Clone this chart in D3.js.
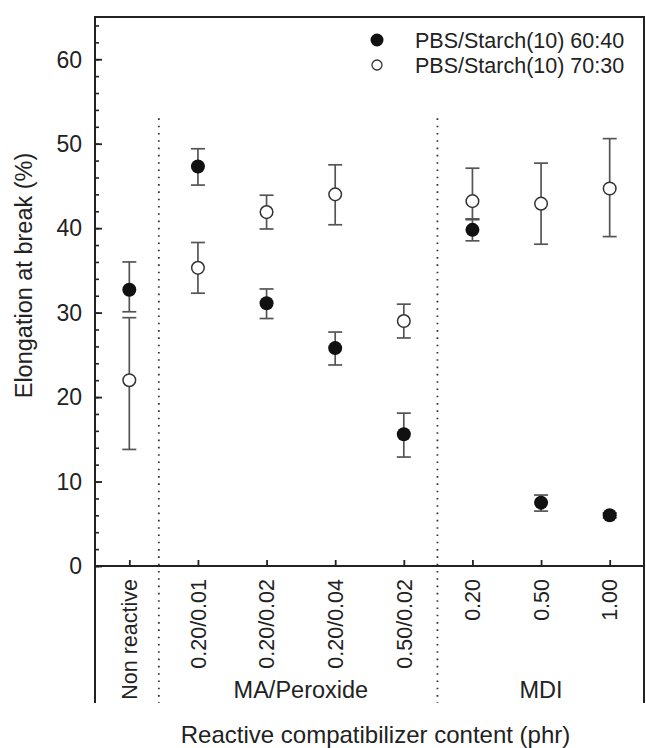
<!DOCTYPE html>
<html>
<head>
<meta charset="utf-8">
<script src="https://cdn.jsdelivr.net/npm/d3@7"></script>
<style>
  body { margin: 0; background: #fff; }
  text { font-family: "Liberation Sans", Arial, sans-serif; fill: #222; }
</style>
</head>
<body>
<div id="chart"></div>
<script>
// categories along the x axis
const categories = ["Non reactive", "0.20/0.01", "0.20/0.02", "0.20/0.04", "0.50/0.02", "0.20", "0.50", "1.00"];

// PBS/Starch(10) 60:40 (filled)
const filledMean = [32.7, 47.3, 31.1, 25.8, 15.6, 39.8, 7.5, 6.0];
const filledLow  = [30.1, 45.1, 29.3, 23.8, 12.9, 38.5, 6.5, 5.7];
const filledHigh = [36.0, 49.4, 32.8, 27.7, 18.1, 41.1, 8.4, 6.3];

// PBS/Starch(10) 70:30 (open)
const openMean = [22.0, 35.3, 41.9, 44.0, 29.0, 43.2, 42.9, 44.7];
const openLow  = [13.8, 32.3, 39.9, 40.4, 27.0, 41.0, 38.1, 39.0];
const openHigh = [29.4, 38.3, 43.9, 47.5, 31.0, 47.1, 47.7, 50.6];

const yTicks = [0, 10, 20, 30, 40, 50, 60];
const groups = [
  {name: "MA/Peroxide", from: 1, to: 4},
  {name: "MDI", from: 5, to: 7}
];
const seriesNames = ["PBS/Starch(10) 60:40", "PBS/Starch(10) 70:30"];

var width = 646, height = 748;
var margin = {top: 17, right: 2, bottom: 182, left: 95};

var svg = d3.select("#chart")
  .append("svg")
    .attr("width", width)
    .attr("height", height);

var x = d3.scalePoint()
  .domain(categories)
  .range([margin.left, width - margin.right])
  .padding(0.5);

var y = d3.scaleLinear()
  .domain([0, 65])
  .range([height - margin.bottom, margin.top]);

var plotLeft = margin.left, plotRight = width - margin.right;
var plotTop = margin.top, plotBottom = height - margin.bottom;
var boxBottom = 703;

// dotted separators between groups
var step = x.step();
var dividers = [x(categories[0]) + step * 0.43, x(categories[4]) + step * 0.49];
svg.append("g")
  .selectAll("line")
  .data(dividers)
  .enter()
  .append("line")
    .attr("x1", d => d).attr("x2", d => d)
    .attr("y1", y(53)).attr("y2", boxBottom)
    .attr("stroke", "#333")
    .attr("stroke-width", 1.8)
    .attr("stroke-dasharray", "1.6,5.7");

// frame
svg.append("path")
  .attr("d", "M" + plotLeft + "," + boxBottom + "V" + plotTop + "H" + plotRight + "V" + boxBottom +
             "M" + plotLeft + "," + plotBottom + "H" + plotRight)
  .attr("fill", "none")
  .attr("stroke", "#222")
  .attr("stroke-width", 2);

// y axis (ticks inside)
var yAxis = svg.append("g")
  .attr("transform", "translate(" + plotLeft + ",0)");
yAxis.append("g")
  .call(d3.axisRight(y).tickValues(d3.range(0, 66, 2)).tickSize(4).tickFormat(""))
  .call(g => g.select(".domain").remove())
  .call(g => g.selectAll("line").attr("stroke", "#222").attr("stroke-width", 1.6));
yAxis.append("g")
  .call(d3.axisRight(y).tickValues(yTicks).tickSize(7).tickFormat(""))
  .call(g => g.select(".domain").remove())
  .call(g => g.selectAll("line").attr("stroke", "#222").attr("stroke-width", 1.8));
yAxis.selectAll("text.ylab")
  .data(yTicks)
  .enter()
  .append("text")
    .attr("class", "ylab")
    .attr("x", -13)
    .attr("y", d => y(d))
    .attr("dy", "0.36em")
    .attr("text-anchor", "end")
    .style("font-size", "23px")
    .text(d => d);

// x axis ticks (inside, pointing up)
svg.append("g")
  .attr("transform", "translate(0," + plotBottom + ")")
  .call(d3.axisTop(x).tickSize(6).tickFormat(""))
  .call(g => g.select(".domain").remove())
  .call(g => g.selectAll("line").attr("stroke", "#222").attr("stroke-width", 1.8));

// category labels, rotated
svg.append("g")
  .selectAll("text")
  .data(categories)
  .enter()
  .append("text")
    .attr("transform", d => "translate(" + x(d) + ",579) rotate(-90)")
    .attr("dy", "0.36em")
    .attr("text-anchor", "end")
    .style("font-size", "21.5px")
    .text(d => d);

// group labels
svg.append("g")
  .selectAll("text")
  .data(groups)
  .enter()
  .append("text")
    .attr("x", d => (x(categories[d.from]) + x(categories[d.to])) / 2)
    .attr("y", 698)
    .attr("text-anchor", "middle")
    .style("font-size", "23.5px")
    .text(d => d.name);

// axis titles
svg.append("text")
  .attr("x", (plotLeft + plotRight) / 2 + 6)
  .attr("y", 743)
  .attr("text-anchor", "middle")
  .style("font-size", "24px")
  .text("Reactive compatibilizer content (phr)");

svg.append("text")
  .attr("transform", "translate(32," + ((plotTop + plotBottom) / 2 - 16) + ") rotate(-90)")
  .attr("text-anchor", "middle")
  .style("font-size", "23.5px")
  .text("Elongation at break (%)");

// build point rows
var filled = categories.map((c, i) => ({cat: c, m: filledMean[i], lo: filledLow[i], hi: filledHigh[i]}));
var open = categories.map((c, i) => ({cat: c, m: openMean[i], lo: openLow[i], hi: openHigh[i]}));

function errorBars(data) {
  var g = svg.append("g")
    .attr("stroke", "#555")
    .attr("stroke-width", 1.7);
  g.selectAll("line.v")
    .data(data)
    .enter()
    .append("line")
      .attr("x1", d => x(d.cat)).attr("x2", d => x(d.cat))
      .attr("y1", d => y(d.lo)).attr("y2", d => y(d.hi));
  ["lo", "hi"].forEach(function(k) {
    g.selectAll("line.c" + k)
      .data(data)
      .enter()
      .append("line")
        .attr("x1", d => x(d.cat) - 7).attr("x2", d => x(d.cat) + 7)
        .attr("y1", d => y(d[k])).attr("y2", d => y(d[k]));
  });
}

errorBars(open);
errorBars(filled);

svg.append("g")
  .selectAll("circle")
  .data(open)
  .enter()
  .append("circle")
    .attr("cx", d => x(d.cat))
    .attr("cy", d => y(d.m))
    .attr("r", 6.3)
    .attr("fill", "#fff")
    .attr("stroke", "#333")
    .attr("stroke-width", 1.5);

svg.append("g")
  .selectAll("circle")
  .data(filled)
  .enter()
  .append("circle")
    .attr("cx", d => x(d.cat))
    .attr("cy", d => y(d.m))
    .attr("r", 7)
    .attr("fill", "#111");

// legend
var legend = svg.append("g");
legend.selectAll("circle")
  .data(seriesNames)
  .enter()
  .append("circle")
    .attr("cx", 377)
    .attr("cy", (d, i) => 40 + i * 25)
    .attr("r", (d, i) => i === 0 ? 6.5 : 5)
    .attr("fill", (d, i) => i === 0 ? "#111" : "#fff")
    .attr("stroke", "#333")
    .attr("stroke-width", (d, i) => i === 0 ? 0 : 1.3);
legend.selectAll("text")
  .data(seriesNames)
  .enter()
  .append("text")
    .attr("x", 415)
    .attr("y", (d, i) => 40 + i * 25)
    .attr("dy", "0.36em")
    .style("font-size", "21.5px")
    .text(d => d);
</script>
</body>
</html>
